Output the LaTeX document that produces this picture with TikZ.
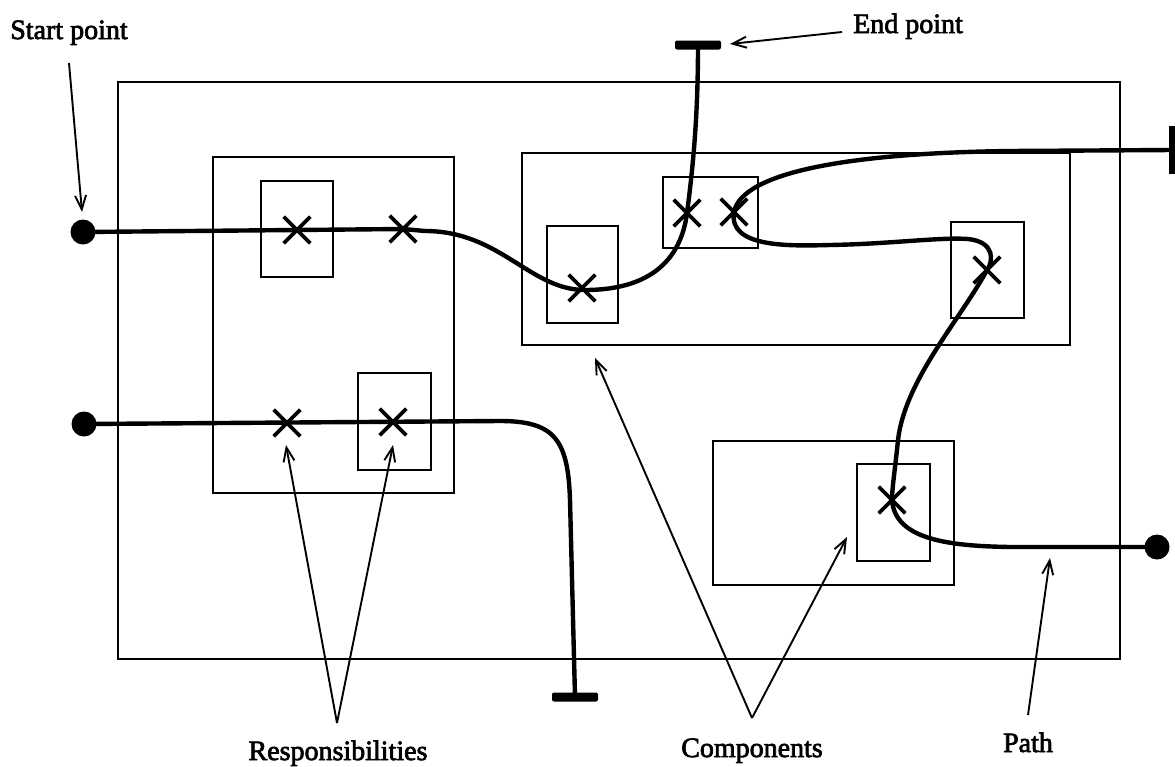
\documentclass[tikz,border=0pt]{standalone}
\usepackage{fontspec}
\setmainfont{Liberation Serif}
\newfontfamily\lblfont[FakeBold=2.5]{Liberation Serif}
\usetikzlibrary{arrows.meta,shapes.misc}
\begin{document}
\begin{tikzpicture}[x=1pt,y=-1pt,
  box/.style={draw=black,line width=2.4pt},
  pathline/.style={draw=black,line width=4.4pt,line cap=round,line join=round},
  xmark/.style={cross out,draw=black,line width=3.6pt,minimum size=23pt,inner sep=0pt},
  dotnode/.style={circle,fill=black,minimum size=25pt,inner sep=0pt},
  barnode/.style={rectangle,rounded corners=2pt,fill=black,minimum width=46pt,minimum height=9pt,inner sep=0pt},
  vbarnode/.style={rectangle,fill=black,minimum width=6pt,minimum height=48pt,inner sep=0pt},
  lead/.style={draw=black,line width=1.9pt,-{Straight Barb[length=14pt,width=11pt,line width=1.9pt]}},
  lbl/.style={font=\lblfont\fontsize{28}{32}\selectfont,inner sep=0pt,anchor=base}]
\useasboundingbox (0,0) rectangle (1175,766);
\fill[white] (0,0) rectangle (1175,766);

% outer system box and components
\draw[box] (118,82) rectangle (1120,659);
\draw[box] (213,157) rectangle (454,493);
\draw[box] (522,153) rectangle (1070,345);
\draw[box] (713,441) rectangle (954,585);
% responsibility boxes
\draw[box] (261,181) rectangle (333,277);
\draw[box] (358,373) rectangle (431,470);
\draw[box] (547,226) rectangle (618,323);
\draw[box] (663,177) rectangle (758,248);
\draw[box] (951,222) rectangle (1024,318);
\draw[box] (857,464) rectangle (930,561);

% end points and start points
\node[dotnode] (s1) at (83,232) {};
\node[dotnode] (s2) at (84,424) {};
\node[dotnode] (s3) at (1157,547) {};
\node[barnode] (e1) at (698,45) {};
\node[barnode] (e2) at (575,697) {};
\node[vbarnode] (e3) at (1172,150) {};

% responsibilities
\node[xmark] (x1) at (297,230) {};
\node[xmark] (x2) at (403,229) {};
\node[xmark] (xa) at (582,288) {};
\node[xmark] (xb1) at (687,213) {};
\node[xmark] (xb2) at (734,212) {};
\node[xmark] (xd) at (987,270) {};
\node[xmark] (xe) at (892,500) {};
\node[xmark] (xc1) at (287,423) {};
\node[xmark] (xc2) at (393,422) {};

% paths
\draw[pathline] (s1.center) -- (x2.center) -- (425,231)
  .. controls (500,231) and (530,290) .. (585,290)
  .. controls (650,290) and (681,260) .. (xb1.center)
  .. controls (694,160) and (698,110) .. (e1.center);
\draw[pathline] (e3.center) -- (1010,151)
  .. controls (850,153) and (742,172) .. (xb2.center)
  .. controls (728,248) and (790,246) .. (830,245)
  .. controls (890,244) and (940,237) .. (968,239)
  .. controls (996,242) and (993,262) .. (xd.center)
  .. controls (960,320) and (905,380) .. (898,440)
  .. controls (895,470) and (892,488) .. (xe.center)
  .. controls (895,540) and (950,546) .. (1010,547)
  -- (s3.center);
\draw[pathline] (s2.center) -- (500,421)
  .. controls (555,421) and (568,440) .. (570,500)
  -- (e2.center);

% labels
\node[lbl] (lstart) at (69,39) {Start point};
\node[lbl,anchor=base west] (lend) at (853,33) {End point};
\node[lbl] (lresp) at (338,760) {Responsibilities};
\node[lbl] (lcomp) at (752,757) {Components};
\node[lbl] (lpath) at (1028,752) {Path};

% leader arrows
\coordinate (ts) at (69,63);   \coordinate (hs) at (82,212);
\coordinate (te) at (842,32);  \coordinate (he) at (730,44);
\coordinate (tr) at (337,723); \coordinate (hr1) at (286,445); \coordinate (hr2) at (393,445);
\coordinate (tc) at (752,718); \coordinate (hc1) at (595,358); \coordinate (hc2) at (847,537);
\coordinate (tp) at (1028,715);\coordinate (hp) at (1050,558);
\draw[lead] (ts) -- (hs);
\draw[lead] (te) -- (he);
\draw[lead] (tr) -- (hr1);
\draw[lead] (tr) -- (hr2);
\draw[lead] (tc) -- (hc1);
\draw[lead] (tc) -- (hc2);
\draw[lead] (tp) -- (hp);
\end{tikzpicture}
\end{document}
